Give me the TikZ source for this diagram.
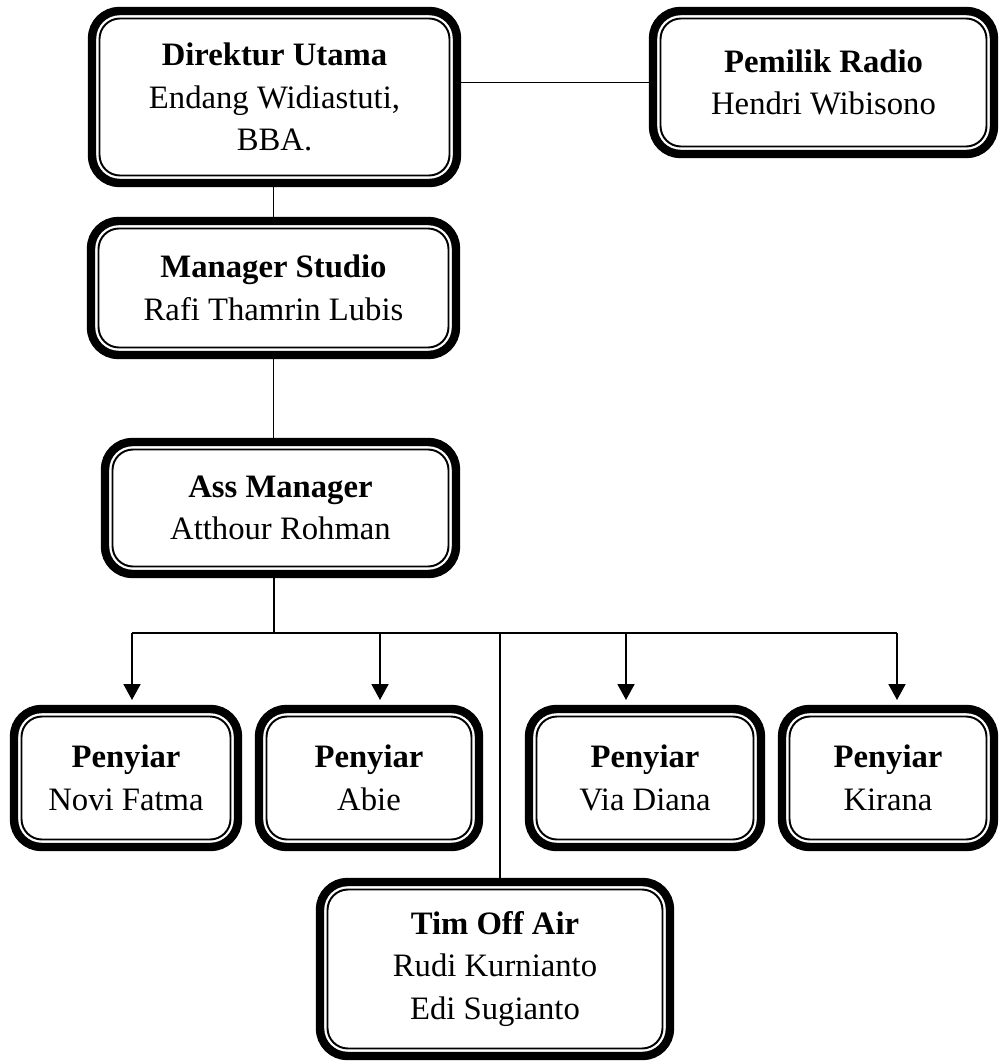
\documentclass[tikz,border=0pt]{standalone}
\usepackage{fontspec}
\setmainfont{Liberation Serif}
\usetikzlibrary{arrows.meta, positioning, calc}
\tikzset{
  post/.style={
    draw=black, line width=4.8pt, rounded corners=0.55cm,
    fill=white, outer sep=0pt, inner sep=2pt, align=center,
    font=\fontsize{18.6}{24.2}\selectfont, text=black
  },
  postin/.style={draw=black, line width=1.1pt, rounded corners=0.41cm},
  link/.style={line width=1pt, draw=black},
  linka/.style={-{Triangle[length=3.2mm, width=3.4mm]}, line width=1.1pt, draw=black, shorten >=0.18cm},
}
\begin{document}
\begin{tikzpicture}
  \useasboundingbox (0,0) rectangle (19.96,-21.22);
  \node[post, minimum width=7.30cm, minimum height=3.44cm] (dir) at (5.49,-1.94)
    {\textbf{Direktur Utama}\\Endang Widiastuti,\\BBA.};
  \node[post, minimum width=6.82cm, minimum height=2.86cm] (own) at (16.47,-1.65)
    {\textbf{Pemilik Radio}\\Hendri Wibisono};
  \node[post, minimum width=7.30cm, minimum height=2.68cm] (mgr) at (5.47,-5.76)
    {\textbf{Manager Studio}\\Rafi Thamrin Lubis};
  \node[post, minimum width=7.02cm, minimum height=2.64cm] (ass) at (5.61,-10.16)
    {\textbf{Ass Manager}\\Atthour Rohman};
  \node[post, minimum width=4.48cm, minimum height=2.76cm] (p1) at (2.52,-15.56)
    {\textbf{Penyiar}\\Novi Fatma};
  \node[post, minimum width=4.40cm, minimum height=2.76cm] (p2) at (7.38,-15.56)
    {\textbf{Penyiar}\\Abie};
  \node[post, minimum width=4.64cm, minimum height=2.76cm] (p3) at (12.90,-15.56)
    {\textbf{Penyiar}\\Via Diana};
  \node[post, minimum width=4.24cm, minimum height=2.76cm] (p4) at (17.76,-15.56)
    {\textbf{Penyiar}\\Kirana};
  \node[post, minimum width=7.00cm, minimum height=3.48cm] (tim) at (9.90,-19.38)
    {\textbf{Tim Off Air}\\Rudi Kurnianto\\Edi Sugianto};

  % thin inner border
  \foreach \n in {dir,own,mgr,ass,p1,p2,p3,p4,tim}
    \draw[postin] ($(\n.south west)+(0.15,0.15)$) rectangle ($(\n.north east)-(0.15,0.15)$);

  \coordinate (bus) at (5.48,-12.66);
  \coordinate (b1) at (2.64,-12.66);
  \coordinate (b2) at (7.60,-12.66);
  \coordinate (b3) at (12.52,-12.66);
  \coordinate (b4) at (17.94,-12.66);
  \coordinate (bt) at (10.00,-12.66);

  \draw[link] (own.west) -- (own.west -| dir.east);
  \draw[link] (mgr.north) -- (mgr.north |- dir.south);
  \draw[link] (mgr.south) -- (mgr.south |- ass.north);
  \draw[link] (bus |- ass.south) -- (bus);
  \draw[link] (b1) -- (b4);
  \draw[linka] (b1) -- (b1 |- p1.north);
  \draw[linka] (b2) -- (b2 |- p2.north);
  \draw[linka] (b3) -- (b3 |- p3.north);
  \draw[linka] (b4) -- (b4 |- p4.north);
  \draw[link] (bt) -- (bt |- tim.north);
\end{tikzpicture}
\end{document}
